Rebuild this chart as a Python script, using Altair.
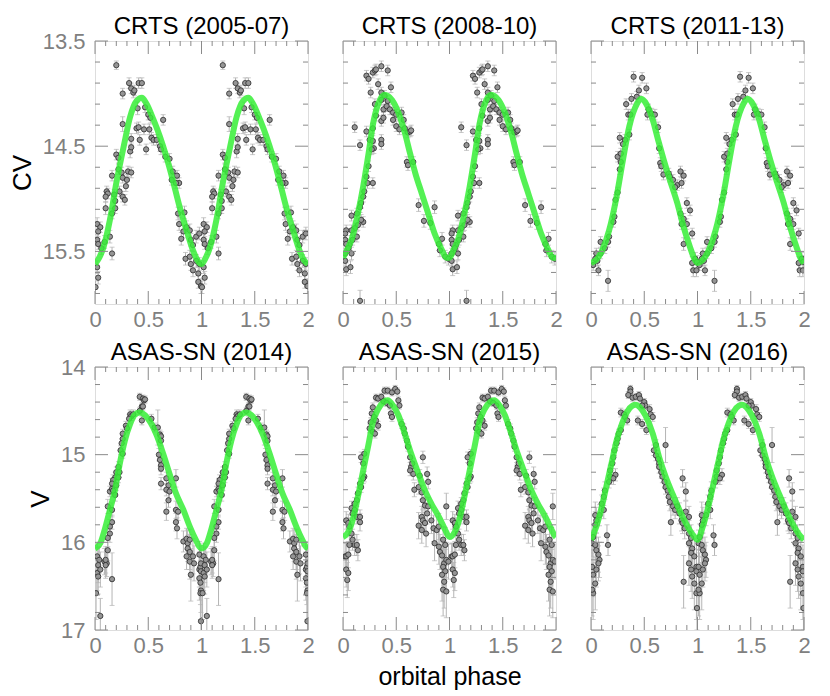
import altair as alt
import pandas as pd

# ---------------- data (phase 0-1; folded light curves are repeated for phase 1-2) -------------
# each point: [orbital phase, magnitude, error]
crts_2005_07 = [
    [0.20,13.73,0.04],[0.32,13.90,0.05],[0.34,13.95,0.05],[0.36,13.99,0.05],[0.37,13.97,0.05],
    [0.41,13.90,0.05],[0.44,13.90,0.05],[0.26,14.00,0.05],[0.40,14.14,0.06],[0.47,14.13,0.05],
    [0.50,14.20,0.05],[0.52,14.23,0.05],[0.64,14.25,0.05],[0.26,14.29,0.07],[0.39,14.33,0.05],
    [0.41,14.32,0.05],[0.46,14.34,0.05],[0.51,14.34,0.05],[0.53,14.42,0.05],[0.55,14.44,0.05],
    [0.34,14.43,0.05],[0.42,14.44,0.05],[0.48,14.53,0.05],[0.20,14.58,0.05],[0.22,14.61,0.05],
    [0.33,14.55,0.06],[0.34,14.51,0.05],[0.58,14.44,0.05],[0.61,14.50,0.05],[0.62,14.53,0.05],
    [0.66,14.60,0.05],[0.70,14.62,0.05],[0.22,14.72,0.05],[0.25,14.75,0.05],[0.26,14.80,0.05],
    [0.30,14.82,0.05],[0.31,14.74,0.05],[0.34,14.75,0.05],[0.29,14.88,0.05],[0.16,14.78,0.05],
    [0.11,14.93,0.05],[0.12,14.95,0.05],[0.10,14.98,0.05],[0.23,14.93,0.05],[0.26,14.98,0.05],
    [0.28,15.01,0.05],[0.18,14.96,0.05],[0.19,15.02,0.05],[0.73,14.74,0.05],[0.77,14.78,0.05],
    [0.79,14.85,0.05],[0.76,14.85,0.05],[0.72,14.82,0.05],[0.10,15.09,0.06],[0.16,15.14,0.05],
    [0.19,15.09,0.05],[0.02,15.24,0.06],[0.05,15.27,0.05],[0.03,15.31,0.05],[0.02,15.39,0.05],
    [0.03,15.43,0.05],[0.06,15.47,0.06],[0.09,15.41,0.06],[0.14,15.36,0.06],[0.16,15.52,0.06],
    [0.78,15.14,0.06],[0.79,15.24,0.06],[0.84,15.13,0.06],[0.83,15.31,0.06],[0.86,15.27,0.06],
    [0.81,15.38,0.06],[0.89,15.30,0.06],[0.90,15.39,0.06],[0.92,15.44,0.06],[0.95,15.36,0.06],
    [0.98,15.33,0.06],[0.85,15.57,0.06],[0.89,15.55,0.06],[0.90,15.62,0.06],[0.95,15.59,0.06],
    [0.98,15.62,0.06],[0.92,15.68,0.06],[0.97,15.71,0.06],[0.97,15.79,0.06],[0.995,15.83,0.07],
    [0.02,15.65,0.06],[0.03,15.75,0.06],[0.005,15.84,0.06],
]
crts_2008_10 = [
    [0.22,13.83,0.05],[0.24,13.86,0.05],[0.28,13.80,0.05],[0.30,13.78,0.05],[0.31,13.77,0.05],
    [0.36,13.74,0.05],[0.42,13.78,0.05],[0.33,13.91,0.05],[0.26,13.99,0.05],[0.30,14.10,0.05],
    [0.36,13.99,0.05],[0.36,14.06,0.05],[0.39,14.02,0.05],[0.42,14.07,0.05],[0.45,13.94,0.05],
    [0.38,14.15,0.05],[0.41,14.12,0.05],[0.44,14.15,0.05],[0.47,14.18,0.05],[0.50,14.20,0.05],
    [0.55,14.18,0.05],[0.57,14.25,0.05],[0.47,14.25,0.05],[0.50,14.31,0.05],[0.53,14.34,0.05],
    [0.58,14.33,0.05],[0.61,14.37,0.05],[0.63,14.36,0.05],[0.64,14.35,0.05],[0.31,14.21,0.05],
    [0.36,14.26,0.05],[0.38,14.23,0.05],[0.28,14.33,0.05],[0.22,14.36,0.05],[0.11,14.32,0.05],
    [0.16,14.49,0.05],[0.25,14.44,0.05],[0.28,14.45,0.05],[0.29,14.52,0.05],[0.27,14.53,0.05],
    [0.36,14.44,0.05],[0.36,14.48,0.05],[0.24,14.69,0.05],[0.22,14.79,0.05],[0.23,14.85,0.05],
    [0.20,14.93,0.05],[0.19,14.98,0.05],[0.28,14.85,0.05],[0.60,14.65,0.05],[0.61,14.68,0.05],
    [0.66,14.65,0.05],[0.17,15.04,0.05],[0.16,15.08,0.05],[0.13,15.14,0.05],[0.08,15.16,0.05],
    [0.19,15.22,0.05],[0.17,15.20,0.05],[0.14,15.25,0.05],[0.11,15.28,0.05],[0.08,15.30,0.05],
    [0.13,15.36,0.05],[0.09,15.39,0.05],[0.06,15.44,0.05],[0.03,15.30,0.05],[0.02,15.33,0.05],
    [0.02,15.39,0.05],[0.03,15.43,0.05],[0.05,15.47,0.05],[0.08,15.52,0.06],[0.02,15.52,0.05],
    [0.02,15.59,0.05],[0.03,15.67,0.06],[0.07,15.65,0.06],[0.16,15.97,0.10],[0.71,15.06,0.06],
    [0.76,15.21,0.06],[0.82,15.23,0.06],[0.86,15.08,0.06],[0.90,15.43,0.06],[0.91,15.49,0.06],
    [0.93,15.38,0.06],[0.96,15.55,0.06],[0.99,15.57,0.06],
]
crts_2011_13 = [
    [0.40,13.84,0.05],[0.48,13.85,0.05],[0.52,13.95,0.05],[0.45,13.97,0.05],[0.38,14.05,0.05],
    [0.43,14.03,0.05],[0.33,14.10,0.05],[0.35,14.20,0.05],[0.37,14.20,0.05],[0.54,14.15,0.05],
    [0.57,14.19,0.05],[0.60,14.20,0.05],[0.53,14.20,0.05],[0.63,14.32,0.05],[0.27,14.42,0.05],
    [0.32,14.44,0.05],[0.36,14.39,0.05],[0.30,14.48,0.05],[0.64,14.52,0.05],[0.25,14.60,0.05],
    [0.28,14.57,0.05],[0.28,14.65,0.05],[0.27,14.72,0.05],[0.65,14.66,0.05],[0.66,14.69,0.05],
    [0.68,14.77,0.05],[0.73,14.76,0.05],[0.74,14.79,0.05],[0.77,14.82,0.05],[0.81,14.87,0.05],
    [0.84,14.74,0.05],[0.87,14.78,0.05],[0.85,14.85,0.05],[0.79,14.89,0.05],[0.25,14.94,0.05],
    [0.23,15.01,0.05],[0.22,15.17,0.05],[0.21,15.22,0.05],[0.84,15.14,0.05],[0.87,15.19,0.05],
    [0.90,15.04,0.05],[0.93,15.11,0.05],[0.85,15.24,0.05],[0.90,15.24,0.05],[0.95,15.33,0.05],
    [0.87,15.43,0.06],[0.17,15.36,0.05],[0.16,15.41,0.05],[0.09,15.41,0.05],[0.13,15.47,0.05],
    [0.09,15.52,0.05],[0.05,15.52,0.05],[0.06,15.59,0.05],[0.07,15.68,0.05],[0.16,15.78,0.10],
    [0.95,15.61,0.06],[0.98,15.57,0.06],[0.96,15.68,0.06],[0.99,15.68,0.06],[0.995,15.60,0.06],
    [0.04,15.57,0.05],[0.02,15.63,0.05],
]
asassn_2014 = [
    [0.42,14.34,0.04],[0.45,14.36,0.04],[0.46,14.38,0.04],[0.47,14.37,0.04],[0.44,14.45,0.04],
    [0.45,14.45,0.04],[0.42,14.50,0.04],[0.33,14.54,0.05],[0.34,14.56,0.05],[0.36,14.54,0.05],
    [0.32,14.59,0.05],[0.44,14.61,0.05],[0.53,14.59,0.05],[0.56,14.69,0.05],[0.59,14.69,0.20],
    [0.29,14.67,0.05],[0.30,14.70,0.05],[0.26,14.76,0.05],[0.26,14.82,0.05],[0.61,14.77,0.05],
    [0.62,14.79,0.05],[0.25,14.87,0.05],[0.24,14.95,0.05],[0.26,14.99,0.05],[0.62,14.84,0.06],
    [0.60,15.00,0.07],[0.61,15.06,0.07],[0.62,15.12,0.07],[0.62,15.16,0.07],[0.22,15.14,0.06],
    [0.20,15.20,0.06],[0.19,15.26,0.06],[0.17,15.29,0.06],[0.16,15.33,0.06],[0.14,15.42,0.06],
    [0.16,15.39,0.06],[0.23,15.20,0.06],[0.22,15.26,0.06],[0.20,15.35,0.06],[0.17,15.41,0.07],
    [0.19,15.46,0.07],[0.12,15.59,0.08],[0.16,15.63,0.08],[0.16,15.77,0.08],[0.14,15.82,0.08],
    [0.14,15.90,0.10],[0.12,15.95,0.10],[0.67,15.27,0.07],[0.69,15.35,0.07],[0.67,15.40,0.07],
    [0.62,15.33,0.07],[0.76,15.27,0.10],[0.70,15.42,0.08],[0.69,15.52,0.08],[0.67,15.65,0.10],
    [0.76,15.63,0.10],[0.78,15.65,0.10],[0.76,15.77,0.10],[0.77,15.84,0.12],[0.83,15.99,0.12],
    [0.86,15.96,0.12],[0.87,16.01,0.15],[0.89,15.97,0.12],[0.87,16.07,0.15],[0.89,16.11,0.20],
    [0.86,16.16,0.15],[0.89,16.22,0.20],[0.92,16.16,0.20],[0.93,16.24,0.20],[0.90,16.37,0.30],
    [0.98,16.14,0.15],[0.98,16.31,0.20],[0.98,16.41,0.25],[0.99,16.28,0.20],[0.995,16.24,0.20],
    [0.995,16.33,0.20],[0.99,16.46,0.25],[0.995,16.55,0.25],[0.99,16.58,0.30],[0.995,16.90,0.30],
    [0.02,16.16,0.15],[0.03,16.26,0.20],[0.02,16.35,0.20],[0.03,16.39,0.20],[0.05,16.31,0.20],
    [0.04,16.20,0.15],[0.01,16.58,0.30],[0.05,16.84,0.20],[0.09,16.22,0.15],[0.11,16.24,0.15],
    [0.10,16.26,0.15],[0.16,16.42,0.30],[0.12,16.09,0.12],[0.10,16.20,0.15],
]
asassn_2015 = [
    [0.39,14.27,0.04],[0.42,14.27,0.04],[0.46,14.29,0.04],[0.49,14.25,0.04],[0.51,14.28,0.04],
    [0.31,14.35,0.04],[0.33,14.36,0.04],[0.36,14.34,0.04],[0.38,14.39,0.04],[0.41,14.41,0.04],
    [0.44,14.44,0.04],[0.45,14.53,0.05],[0.46,14.57,0.05],[0.52,14.38,0.04],[0.53,14.44,0.04],
    [0.28,14.46,0.05],[0.27,14.53,0.05],[0.29,14.57,0.05],[0.26,14.63,0.05],[0.25,14.70,0.05],
    [0.31,14.61,0.05],[0.33,14.67,0.05],[0.28,14.74,0.05],[0.30,14.76,0.05],[0.55,14.65,0.05],
    [0.57,14.70,0.05],[0.58,14.76,0.05],[0.60,14.84,0.05],[0.61,14.91,0.05],[0.20,14.99,0.05],
    [0.19,15.10,0.06],[0.17,15.03,0.06],[0.20,15.25,0.06],[0.19,15.27,0.06],[0.16,15.33,0.06],
    [0.17,15.37,0.06],[0.14,15.44,0.07],[0.13,15.52,0.07],[0.11,15.56,0.07],[0.08,15.61,0.08],
    [0.11,15.63,0.08],[0.09,15.67,0.08],[0.13,15.71,0.08],[0.16,15.71,0.08],[0.16,15.77,0.10],
    [0.03,15.75,0.10],[0.05,15.78,0.10],[0.06,15.82,0.10],[0.08,15.90,0.10],[0.09,15.97,0.12],
    [0.11,16.03,0.12],[0.13,16.03,0.12],[0.14,16.09,0.12],[0.02,16.16,0.15],[0.03,16.16,0.15],
    [0.05,16.14,0.15],[0.06,16.03,0.12],[0.03,16.31,0.20],[0.05,16.35,0.20],[0.04,16.43,0.20],
    [0.63,15.03,0.06],[0.64,15.14,0.06],[0.65,15.10,0.06],[0.63,15.18,0.06],[0.66,15.22,0.07],
    [0.72,15.24,0.07],[0.75,15.03,0.07],[0.79,15.22,0.08],[0.80,15.31,0.08],[0.67,15.40,0.08],
    [0.71,15.37,0.08],[0.74,15.43,0.08],[0.75,15.52,0.10],[0.77,15.58,0.10],[0.74,15.71,0.12],
    [0.75,15.75,0.12],[0.77,15.78,0.12],[0.79,15.67,0.12],[0.71,15.81,0.15],[0.74,15.86,0.15],
    [0.78,15.90,0.15],[0.80,15.59,0.10],[0.83,15.75,0.15],[0.85,15.84,0.15],[0.88,15.86,0.15],
    [0.90,15.82,0.15],[0.86,16.01,0.20],[0.97,15.59,0.15],[0.90,16.05,0.20],[0.91,16.11,0.20],
    [0.93,16.15,0.20],[0.94,15.97,0.15],[0.96,16.03,0.20],[0.95,16.24,0.25],[0.94,16.28,0.25],
    [0.96,16.33,0.25],[0.97,16.20,0.20],[0.99,16.22,0.20],[0.93,16.37,0.30],[0.95,16.45,0.30],
    [0.94,16.54,0.30],[0.97,16.56,0.30],
]
asassn_2016 = [
    [0.37,14.25,0.04],[0.37,14.28,0.04],[0.35,14.32,0.04],[0.39,14.35,0.04],[0.42,14.34,0.04],
    [0.45,14.32,0.04],[0.46,14.36,0.04],[0.50,14.40,0.04],[0.51,14.44,0.04],[0.48,14.44,0.04],
    [0.55,14.48,0.05],[0.56,14.54,0.05],[0.58,14.57,0.05],[0.28,14.52,0.05],[0.31,14.54,0.05],
    [0.32,14.57,0.05],[0.34,14.61,0.05],[0.44,14.61,0.05],[0.48,14.65,0.05],[0.52,14.72,0.05],
    [0.28,14.72,0.05],[0.26,14.76,0.05],[0.25,14.82,0.05],[0.24,14.87,0.05],[0.61,14.89,0.06],
    [0.59,14.95,0.06],[0.61,15.01,0.06],[0.63,15.05,0.06],[0.64,15.10,0.06],[0.70,14.89,0.20],
    [0.22,14.95,0.06],[0.21,15.03,0.06],[0.20,15.10,0.06],[0.18,15.18,0.06],[0.18,15.25,0.06],
    [0.17,15.31,0.07],[0.23,15.23,0.07],[0.21,15.27,0.07],[0.64,15.14,0.07],[0.66,15.20,0.07],
    [0.67,15.25,0.07],[0.69,15.31,0.07],[0.70,15.37,0.08],[0.72,15.41,0.08],[0.86,15.27,0.10],
    [0.89,15.42,0.10],[0.73,15.48,0.10],[0.74,15.54,0.10],[0.77,15.59,0.10],[0.79,15.63,0.10],
    [0.75,15.77,0.15],[0.81,15.59,0.10],[0.83,15.67,0.12],[0.85,15.75,0.12],[0.86,15.78,0.12],
    [0.88,15.84,0.12],[0.89,15.65,0.12],[0.92,15.71,0.12],[0.13,15.41,0.10],[0.12,15.48,0.10],
    [0.10,15.56,0.10],[0.12,15.63,0.10],[0.08,15.69,0.12],[0.04,15.69,0.15],[0.05,15.75,0.15],
    [0.04,15.80,0.15],[0.15,15.92,0.12],[0.16,16.03,0.12],[0.02,15.94,0.15],[0.01,16.01,0.15],
    [0.04,16.03,0.20],[0.05,16.09,0.20],[0.07,16.14,0.20],[0.08,16.20,0.20],[0.07,16.24,0.20],
    [0.05,16.31,0.20],[0.04,16.47,0.30],[0.02,16.58,0.30],[0.01,16.54,0.30],[0.01,16.28,0.20],
    [0.02,16.37,0.25],[0.92,15.90,0.15],[0.94,15.95,0.15],[0.92,16.01,0.20],[0.95,16.07,0.20],
    [0.94,16.12,0.20],[0.97,16.16,0.20],[0.92,16.24,0.25],[0.94,16.31,0.25],[0.95,16.39,0.25],
    [0.99,16.28,0.25],[0.99,16.33,0.25],[0.97,16.47,0.30],[0.99,16.58,0.30],[0.995,16.75,0.25],
    [0.87,16.45,0.30],
]

# model light curves: [phase, magnitude]
model_2005_07 = [[0.0,15.62],[0.04,15.56],[0.08,15.46],[0.14,15.20],[0.20,14.85],[0.27,14.50],
                 [0.33,14.22],[0.39,14.07],[0.44,14.04],[0.48,14.09],[0.55,14.25],[0.61,14.41],
                 [0.67,14.60],[0.73,14.82],[0.79,15.06],[0.86,15.30],[0.92,15.49],[0.96,15.58]]
model_2008_10 = [[0.0,15.56],[0.04,15.48],[0.08,15.39],[0.14,15.14],[0.19,14.88],[0.24,14.57],
                 [0.28,14.30],[0.33,14.10],[0.39,14.01],[0.46,14.06],[0.52,14.18],[0.58,14.37],
                 [0.63,14.57],[0.68,14.76],[0.74,14.95],[0.80,15.14],[0.86,15.33],[0.93,15.49],
                 [0.97,15.56]]
model_2011_13 = [[0.0,15.61],[0.05,15.58],[0.11,15.48],[0.17,15.30],[0.24,14.98],[0.30,14.63],
                 [0.36,14.31],[0.43,14.10],[0.47,14.05],[0.52,14.10],[0.58,14.25],[0.63,14.44],
                 [0.68,14.62],[0.74,14.82],[0.81,15.04],[0.87,15.27],[0.93,15.46],[0.97,15.57]]
model_2014 = [[0.0,16.07],[0.05,16.01],[0.09,15.86],[0.14,15.63],[0.19,15.39],[0.23,15.12],
              [0.28,14.84],[0.33,14.65],[0.37,14.55],[0.42,14.52],[0.47,14.55],[0.51,14.61],
              [0.58,14.78],[0.64,14.99],[0.70,15.22],[0.76,15.44],[0.83,15.63],[0.89,15.82],
              [0.95,15.98],[0.98,16.05]]
model_2015 = [[0.0,15.94],[0.05,15.88],[0.09,15.75],[0.14,15.48],[0.19,15.18],[0.24,14.88],
              [0.28,14.63],[0.33,14.48],[0.38,14.40],[0.42,14.38],[0.47,14.44],[0.52,14.55],
              [0.58,14.76],[0.64,14.99],[0.71,15.22],[0.77,15.41],[0.83,15.56],[0.90,15.71],
              [0.96,15.86],[0.98,15.91]]
model_2016 = [[0.0,15.97],[0.05,15.82],[0.10,15.60],[0.15,15.33],[0.20,15.06],[0.24,14.84],
              [0.29,14.65],[0.34,14.51],[0.39,14.44],[0.42,14.43],[0.46,14.46],[0.51,14.55],
              [0.58,14.76],[0.64,15.03],[0.70,15.25],[0.77,15.46],[0.83,15.63],[0.89,15.78],
              [0.96,15.92]]

titles = ["CRTS (2005-07)", "CRTS (2008-10)", "CRTS (2011-13)",
          "ASAS-SN (2014)", "ASAS-SN (2015)", "ASAS-SN (2016)"]

x_major = [0, 0.5, 1, 1.5, 2]
x_minor = [0.1, 0.2, 0.3, 0.4, 0.6, 0.7, 0.8, 0.9, 1.1, 1.2, 1.3, 1.4, 1.6, 1.7, 1.8, 1.9]
top_domain = [13.5, 16.0]
top_major = [13.5, 14.5, 15.5]
top_minor = [13.7, 13.9, 14.1, 14.3, 14.7, 14.9, 15.1, 15.3, 15.7, 15.9]
bot_domain = [14.0, 17.0]
bot_major = [14, 15, 16, 17]
bot_minor = [14.2, 14.4, 14.6, 14.8, 15.2, 15.4, 15.6, 15.8, 16.2, 16.4, 16.6, 16.8]

# ---------------- styling -------------
W, H = 213, 263
FONT = "Liberation Sans"
TICK_C = "#8a8a8a"
LAB_C = "#808080"
MAJ, MIN = 13, 5


def pts_df(pts):
    rows = []
    for k in (0, 1):
        for p, m, e in pts:
            rows.append({"phase": p + k, "mag": m, "lo": m - e, "hi": m + e})
    return pd.DataFrame(rows)


def model_df(model):
    rows = []
    for k in (0, 1):
        for p, m in model:
            rows.append({"phase": p + k, "mag": m})
    rows.append({"phase": 2.0, "mag": model[0][1]})
    return pd.DataFrame(rows)


def panel(pts, model, title, domain, ymaj, ymin, ytitle=None, xtitle=None):
    xs = alt.Scale(domain=[0, 2], nice=False, zero=False)
    ys = alt.Scale(domain=domain, reverse=True, nice=False, zero=False)
    xaxis = alt.Axis(values=x_major, format=".3~g", ticks=False, domain=False, grid=False,
                     labelFontSize=22, labelColor=LAB_C, labelFont=FONT, labelPadding=5,
                     labelFlush=False, title=xtitle if xtitle else "",
                     titleFontSize=25, titleFont=FONT, titleFontWeight="normal",
                     titleColor="black", titlePadding=8)
    if ytitle:
        yaxis = alt.Axis(values=ymaj, format=".3~g", ticks=False, domain=False, grid=False,
                         labelFontSize=22, labelColor=LAB_C, labelFont=FONT, labelPadding=10,
                         labelFlush=False, title=ytitle, titleFontSize=26, titleFont=FONT,
                         titleFontWeight="normal", titleColor="black", titlePadding=7)
    else:
        yaxis = None

    def X(f):
        return alt.X(f, type="quantitative", scale=xs, axis=xaxis)

    def Y(f):
        return alt.Y(f, type="quantitative", scale=ys, axis=yaxis)

    d = pts_df(pts)
    base = alt.Chart(d)
    err = base.mark_rule(color="#b4b4b4", strokeWidth=1, clip=True).encode(
        x=X("phase"), y=Y("lo"), y2="hi")
    cap_lo = base.mark_tick(color="#b4b4b4", orient="horizontal", size=5, thickness=1,
                            clip=True).encode(x=X("phase"), y=Y("lo"))
    cap_hi = base.mark_tick(color="#b4b4b4", orient="horizontal", size=5, thickness=1,
                            clip=True).encode(x=X("phase"), y=Y("hi"))
    dots = base.mark_circle(size=28, fill="#959595", stroke="#2b2b2b", strokeWidth=0.8,
                            opacity=1, clip=True).encode(x=X("phase"), y=Y("mag"))
    line = alt.Chart(model_df(model)).mark_line(
        color="#36ef36", strokeWidth=6, opacity=0.85, interpolate="monotone", clip=True
    ).encode(x=X("phase"), y=Y("mag"))

    layers = [err, cap_lo, cap_hi, dots, line]
    for vals, L in ((x_major, MAJ), (x_minor, MIN)):
        td = alt.Chart(pd.DataFrame({"v": vals}))
        layers.append(td.mark_rule(color=TICK_C, strokeWidth=1).encode(
            x=X("v"), y=alt.value(0), y2=alt.value(L)))
        layers.append(td.mark_rule(color=TICK_C, strokeWidth=1).encode(
            x=X("v"), y=alt.value(H), y2=alt.value(H - L)))
    for vals, L in ((ymaj, MAJ), (ymin, MIN)):
        td = alt.Chart(pd.DataFrame({"v": vals}))
        layers.append(td.mark_rule(color=TICK_C, strokeWidth=1).encode(
            y=Y("v"), x=alt.value(0), x2=alt.value(L)))
        layers.append(td.mark_rule(color=TICK_C, strokeWidth=1).encode(
            y=Y("v"), x=alt.value(W), x2=alt.value(W - L)))

    # panel title as a text mark placed just above the frame
    ttl = alt.Chart(pd.DataFrame({"t": [title]})).mark_text(
        font=FONT, fontSize=24, color="black", align="center", baseline="alphabetic"
    ).encode(x=alt.value(W / 2), y=alt.value(-7), text="t:N")
    layers.append(ttl)

    return alt.layer(*layers).properties(width=W, height=H)


panels = [
    panel(crts_2005_07, model_2005_07, titles[0], top_domain, top_major, top_minor, ytitle="CV"),
    panel(crts_2008_10, model_2008_10, titles[1], top_domain, top_major, top_minor),
    panel(crts_2011_13, model_2011_13, titles[2], top_domain, top_major, top_minor),
    panel(asassn_2014, model_2014, titles[3], bot_domain, bot_major, bot_minor, ytitle="V"),
    panel(asassn_2015, model_2015, titles[4], bot_domain, bot_major, bot_minor,
          xtitle="orbital phase"),
    panel(asassn_2016, model_2016, titles[5], bot_domain, bot_major, bot_minor),
]

chart = alt.concat(*panels, columns=3, spacing={"row": 63, "column": 35},
                   bounds="flush").properties(
    padding={"left": 0, "top": 6, "right": 5, "bottom": 0}
).configure_view(stroke="#8a8a8a", strokeWidth=1.5).configure(background="white")

chart.save("out.html", embed_options={"renderer": "svg", "actions": False})
